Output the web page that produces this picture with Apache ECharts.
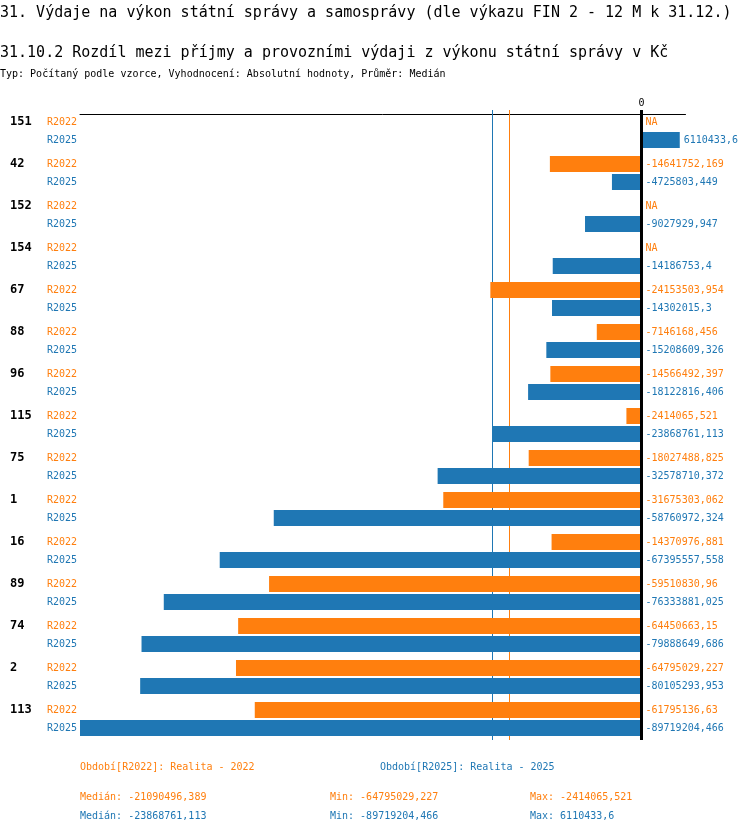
<!DOCTYPE html>
<html>
<head>
<meta charset="utf-8">
<script src="https://cdn.jsdelivr.net/npm/echarts@6/dist/echarts.min.js"></script>
<style>
html,body{margin:0;padding:0;background:#fff;}
#chart{width:750px;height:834px;}
</style>
</head>
<body>
<div id="chart"></div>
<script>
const categories = ['151','42','152','154','67','88','96','115','75','1','16','89','74','2','113'];
const seriesNames = ['R2022','R2025'];
const r2022 = [null, -14641752.169, null, null, -24153503.954, -7146168.456, -14566492.397, -2414065.521, -18027488.825, -31675303.062, -14370976.881, -59510830.96, -64450663.15, -64795029.227, -61795136.63];
const r2025 = [6110433.6, -4725803.449, -9027929.947, -14186753.4, -14302015.3, -15208609.326, -18122816.406, -23868761.113, -32578710.372, -58760972.324, -67395557.558, -76333881.025, -79888649.686, -80105293.953, -89719204.466];
const medians = [-21090496.389, -23868761.113];
const mins = [-64795029.227, -89719204.466];
const maxs = [-2414065.521, 6110433.6];
const periodTexts = ['Období[R2022]: Realita - 2022', 'Období[R2025]: Realita - 2025'];
const titleText = '31. Výdaje na výkon státní správy a samosprávy (dle výkazu FIN 2 - 12 M k 31.12.)';
const subtitleText = '31.10.2 Rozdíl mezi příjmy a provozními výdaji z výkonu státní správy v Kč';
const typeText = 'Typ: Počítaný podle vzorce, Vyhodnocení: Absolutní hodnoty, Průměr: Medián';

const colors = ['#ff7f0e', '#1f77b4'];
const FONT = 'DejaVu Sans Mono';
const fmt = v => String(v).replace('.', ',');

const axisMin = Math.min(...mins);
const axisMax = Math.max(...maxs) * 1.15;

function buildData(arr) {
  return arr.map(v => v === null ? { value: 0, na: true } : { value: v });
}

function makeSeries(i, arr) {
  const s = {
    name: seriesNames[i],
    type: 'bar',
    z: 3,
    data: buildData(arr),
    barWidth: 16,
    barGap: '12.5%',
    itemStyle: { color: colors[i] },
    label: {
      show: true,
      position: 'right',
      distance: 4,
      color: colors[i],
      fontFamily: FONT,
      fontSize: 10,
      formatter: p => p.data.na ? 'NA' : fmt(p.value)
    }
  };
  if (i === 0) {
    s.markLine = {
      silent: true, symbol: ['none', 'none'], label: { show: false }, animation: false, z: 1,
      data: medians.map((m, k) => ({ xAxis: m, lineStyle: { color: colors[k], width: 1, type: 'solid' } }))
    };
  } else {
    s.markLine = {
      silent: true, symbol: ['none', 'none'], label: { show: false }, animation: false, z: 10,
      data: [{ xAxis: 0, lineStyle: { color: '#000', width: 3, type: 'solid' } }]
    };
  }
  return s;
}

const texts = [];
const txt = (x, y, t, color, size) => texts.push({
  type: 'text', left: x, top: y,
  style: { text: t, fill: color, font: `${size}px "${FONT}"` }
});
txt(0, 6, titleText, '#000', 15);
txt(0, 46, subtitleText, '#000', 15);
txt(0, 69, typeText, '#000', 10);
txt(80, 762, periodTexts[0], colors[0], 10);
txt(380, 762, periodTexts[1], colors[1], 10);
for (let i = 0; i < 2; i++) {
  const y = 792 + i * 19;
  txt(80, y, 'Medián: ' + fmt(medians[i]), colors[i], 10);
  txt(330, y, 'Min: ' + fmt(mins[i]), colors[i], 10);
  txt(530, y, 'Max: ' + fmt(maxs[i]), colors[i], 10);
}

const chart = echarts.init(document.getElementById('chart'), null, { renderer: 'canvas' });
chart.setOption({
  animation: false,
  backgroundColor: '#fff',
  graphic: texts,
  grid: { left: 80, right: 64.5, top: 110, height: 630, containLabel: false },
  xAxis: {
    type: 'value',
    position: 'top',
    offset: -4,
    min: axisMin,
    max: axisMax,
    splitLine: { show: false },
    axisTick: { show: false },
    axisLine: { show: true, lineStyle: { color: '#000', width: 1 } },
    axisLabel: { customValues: [0], formatter: v => String(v), color: '#000', fontFamily: FONT, fontSize: 10, margin: 6 }
  },
  yAxis: {
    type: 'category',
    inverse: true,
    data: categories,
    axisLine: { show: false },
    axisTick: { show: false },
    axisLabel: {
      align: 'left',
      margin: 70,
      formatter: v => `{n|${v}}{a|${seriesNames[0]}}\n{n| }{b|${seriesNames[1]}}`,
      rich: {
        n: { width: 37, fontFamily: FONT, fontSize: 12, fontWeight: 'bold', color: '#000', lineHeight: 18 },
        a: { fontFamily: FONT, fontSize: 10, color: colors[0], lineHeight: 18 },
        b: { fontFamily: FONT, fontSize: 10, color: colors[1], lineHeight: 18 }
      }
    }
  },
  series: [makeSeries(0, r2022), makeSeries(1, r2025)]
});
</script>
</body>
</html>
